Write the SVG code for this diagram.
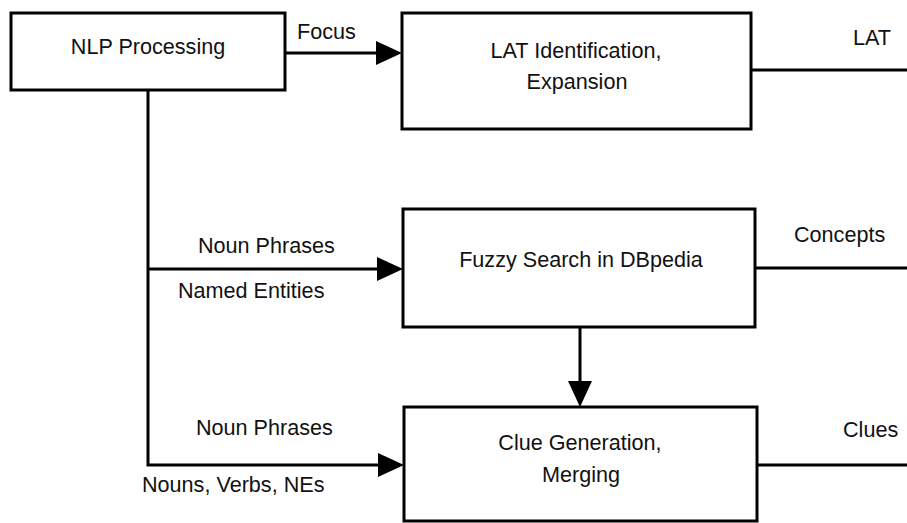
<svg xmlns="http://www.w3.org/2000/svg" width="907" height="523" viewBox="0 0 907 523">
<style>
.box{fill:#fff;stroke:#000;stroke-width:3}
.t{font-family:"Liberation Sans",Arial,sans-serif;font-size:21.6px;fill:#111}
.m{text-anchor:middle}
.c{fill:none;stroke:#000;stroke-width:3}
</style>
<defs>
<marker id="ah" markerUnits="userSpaceOnUse" markerWidth="26" markerHeight="24" refX="6" refY="12" orient="auto">
<path d="M0,0 L26,12 L0,24 z" fill="#000"/>
</marker>
</defs>
<g id="connectors">
<line class="c" x1="285" y1="53" x2="382" y2="53" marker-end="url(#ah)"/>
<line class="c" x1="751" y1="70" x2="907" y2="70"/>
<polyline class="c" points="148,90 148,465 384,465" marker-end="url(#ah)"/>
<line class="c" x1="148" y1="269" x2="383" y2="269" marker-end="url(#ah)"/>
<line class="c" x1="580" y1="327" x2="580" y2="387" marker-end="url(#ah)"/>
<line class="c" x1="755" y1="268" x2="907" y2="268"/>
<line class="c" x1="757" y1="465" x2="907" y2="465"/>
<text class="t" x="297" y="39">Focus</text>
<text class="t" x="853" y="45">LAT</text>
<text class="t" x="198" y="253">Noun Phrases</text>
<text class="t" x="178" y="298">Named Entities</text>
<text class="t" x="794" y="242">Concepts</text>
<text class="t" x="196" y="435">Noun Phrases</text>
<text class="t" x="142" y="492">Nouns, Verbs, NEs</text>
<text class="t" x="843" y="437">Clues</text>
</g>
<g id="nlp">
<rect class="box" x="11" y="13" width="274" height="77"/>
<text class="t m" x="148" y="54">NLP Processing</text>
</g>
<g id="lat">
<rect class="box" x="402" y="13" width="349" height="116"/>
<text class="t m" x="576" y="58">LAT Identification,</text>
<text class="t m" x="577" y="89">Expansion</text>
</g>
<g id="fuzzy">
<rect class="box" x="403" y="209" width="352" height="118"/>
<text class="t m" x="581" y="267">Fuzzy Search in DBpedia</text>
</g>
<g id="clue">
<rect class="box" x="404" y="407" width="353" height="114"/>
<text class="t m" x="580" y="450">Clue Generation,</text>
<text class="t m" x="581" y="482">Merging</text>
</g>
</svg>
